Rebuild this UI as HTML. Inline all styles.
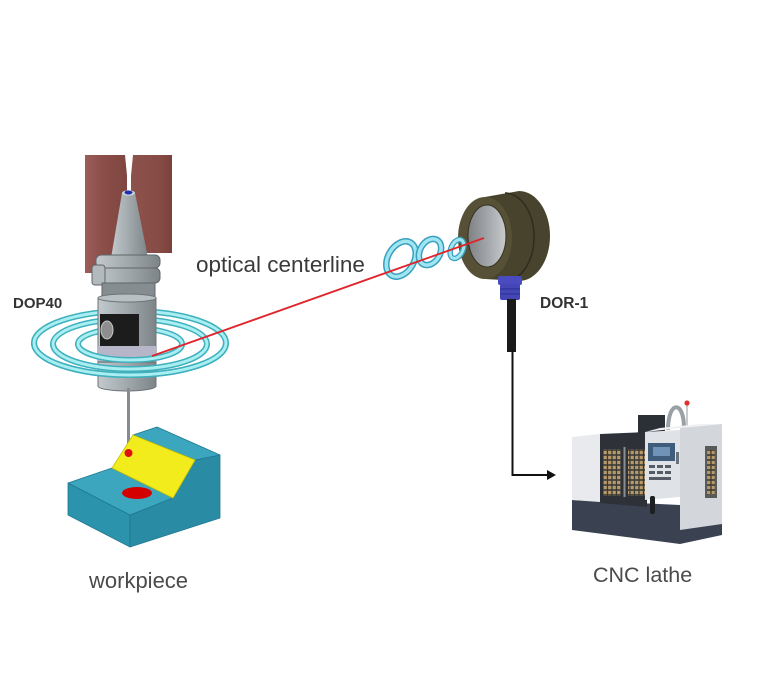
<!DOCTYPE html>
<html><head><meta charset="utf-8"><style>
html,body{margin:0;padding:0;background:#fff;}
svg{display:block;}
text{font-family:"Liberation Sans","DejaVu Sans",sans-serif;}
</style></head><body>
<svg width="768" height="683" viewBox="0 0 768 683" xmlns="http://www.w3.org/2000/svg">
<defs>
<linearGradient id="brL" x1="0" x2="1"><stop offset="0" stop-color="#9b5d57"/><stop offset="0.4" stop-color="#8c4f49"/><stop offset="1" stop-color="#7f4540"/></linearGradient>
<linearGradient id="brR" x1="0" x2="1"><stop offset="0" stop-color="#8e524c"/><stop offset="0.7" stop-color="#874b45"/><stop offset="1" stop-color="#7a413c"/></linearGradient>
<linearGradient id="gr" x1="0" x2="1"><stop offset="0" stop-color="#c3c9cc"/><stop offset="0.45" stop-color="#a4acb0"/><stop offset="1" stop-color="#7c8488"/></linearGradient>
<linearGradient id="lens" x1="0" x2="1"><stop offset="0" stop-color="#7d8185"/><stop offset="0.6" stop-color="#a9acaf"/><stop offset="1" stop-color="#c9cbcd"/></linearGradient>
<pattern id="dots" width="4.5" height="5" patternUnits="userSpaceOnUse"><rect width="4.5" height="5" fill="#3a3a38"/><rect x="0.6" y="0.8" width="3.2" height="3.4" fill="#b89a6a"/></pattern>
</defs>

<!-- brown blocks -->
<rect x="85" y="155" width="42" height="118" fill="url(#brL)"/>
<rect x="131" y="155" width="41" height="98" fill="url(#brR)"/>
<polygon points="125,155 133,155 129,196" fill="#fff"/>

<!-- cone -->
<polygon points="122,193 135,193 148,258 111,258" fill="url(#gr)"/>
<ellipse cx="128.5" cy="193" rx="6.5" ry="2.6" fill="#cfd4d6"/>
<ellipse cx="128.5" cy="192.5" rx="4" ry="2" fill="#1d2fb0"/>

<!-- DOP40 rings full (back parts) -->
<g fill="none">
<ellipse cx="130" cy="343" rx="96" ry="32" stroke="#3fb0bd" stroke-width="6"/>
<ellipse cx="130" cy="343" rx="96" ry="32" stroke="#a9eff2" stroke-width="3"/>
<ellipse cx="130" cy="344" rx="77" ry="25" stroke="#3fb0bd" stroke-width="6"/>
<ellipse cx="130" cy="344" rx="77" ry="25" stroke="#a9eff2" stroke-width="3"/>
<ellipse cx="130" cy="344" rx="52" ry="16" stroke="#3fb0bd" stroke-width="6"/>
<ellipse cx="130" cy="344" rx="52" ry="16" stroke="#a9eff2" stroke-width="3"/>
</g>

<!-- flange -->
<rect x="96" y="255" width="64" height="13" rx="5" fill="url(#gr)" stroke="#5f676b" stroke-width="1"/>
<rect x="94" y="268" width="66" height="15" rx="5" fill="url(#gr)" stroke="#5f676b" stroke-width="1"/>
<rect x="92" y="265" width="13" height="20" rx="3" fill="#b3babd" stroke="#5f676b" stroke-width="1"/>
<rect x="102" y="283" width="53" height="15" fill="#858d91" stroke="#5f676b" stroke-width="1"/>

<!-- body -->
<path d="M98 298 L156 298 L156 386 A29 5 0 0 1 98 386 Z" fill="url(#gr)" stroke="#6c7478" stroke-width="1"/>
<ellipse cx="127" cy="298" rx="29" ry="4" fill="#b9c0c3" stroke="#6c7478" stroke-width="1"/>
<rect x="100" y="314" width="39" height="32" fill="#1c1c1c"/>
<ellipse cx="107" cy="330" rx="6" ry="9" fill="#8e8e8e" stroke="#c8c8c8" stroke-width="1"/>
<rect x="98" y="346" width="58" height="16" fill="#b7b5c8"/>
<line x1="98" y1="362" x2="156" y2="362" stroke="#6c7478" stroke-width="1.2"/>

<!-- stylus -->
<line x1="128.5" y1="388" x2="128.5" y2="450" stroke="#858b8f" stroke-width="3"/>

<!-- DOP40 rings front halves -->
<g fill="none">
<path d="M34 343 A96 32 0 0 0 226 343" stroke="#3fb0bd" stroke-width="6"/>
<path d="M34 343 A96 32 0 0 0 226 343" stroke="#a9eff2" stroke-width="3"/>
<path d="M53 344 A77 25 0 0 0 207 344" stroke="#3fb0bd" stroke-width="6"/>
<path d="M53 344 A77 25 0 0 0 207 344" stroke="#a9eff2" stroke-width="3"/>
<path d="M78 344 A52 16 0 0 0 182 344" stroke="#3fb0bd" stroke-width="6"/>
<path d="M78 344 A52 16 0 0 0 182 344" stroke="#a9eff2" stroke-width="3"/>
</g>

<!-- workpiece -->
<g stroke="#1f7890" stroke-width="0.8" stroke-linejoin="round">
<polygon points="68,483 130,515 130,547 68,515" fill="#2c93ac"/>
<polygon points="130,515 173,498 195,460 220,455 220,518 130,547" fill="#2a8ca4"/>
<polygon points="68,483 112,468 173,498 130,515" fill="#3ba6be"/>
<polygon points="133,435 157,427 220,455 195,460" fill="#3ba6be"/>
<polygon points="112,468 133,435 195,460 173,498" fill="#f2ec1c" stroke="#c9c100"/>
</g>
<ellipse cx="137" cy="493" rx="15" ry="6" fill="#d40000"/>
<circle cx="128.5" cy="453" r="4" fill="#e01010"/>

<!-- receiver -->
<path d="M485 197 L519 191 A31 45 0 0 1 519 281 L485 279 Z" fill="#47432d"/>
<path d="M505 193 A29 44 0 0 1 505 281" fill="none" stroke="#2f2c1d" stroke-width="1.5"/>
<ellipse cx="485" cy="238" rx="27" ry="41" fill="#565136"/>
<ellipse cx="487" cy="236" rx="19" ry="31" fill="url(#lens)" stroke="#35311f" stroke-width="1"/>

<!-- blue connector and cable -->
<rect x="498" y="276" width="24" height="9" rx="2" fill="#4a4bbf"/>
<rect x="500" y="284" width="20" height="16" rx="2" fill="#4446b5"/>
<line x1="500" y1="289" x2="520" y2="289" stroke="#2c2d92" stroke-width="1"/>
<line x1="500" y1="294" x2="520" y2="294" stroke="#2c2d92" stroke-width="1"/>
<rect x="507" y="299" width="9" height="53" fill="#1a1a1a"/>
<polyline points="512.5,350 512.5,475 549,475" fill="none" stroke="#111" stroke-width="2"/>
<polygon points="547,470 556,475 547,480" fill="#111"/>

<!-- receiver rings -->
<g fill="none">
<ellipse cx="401" cy="259" rx="13" ry="19" transform="rotate(30 401 259)" stroke="#3a9fc0" stroke-width="6.5"/>
<ellipse cx="401" cy="259" rx="13" ry="19" transform="rotate(30 401 259)" stroke="#9fe6f0" stroke-width="3.5"/>
<ellipse cx="430" cy="252" rx="10" ry="14" transform="rotate(30 430 252)" stroke="#3a9fc0" stroke-width="6.5"/>
<ellipse cx="430" cy="252" rx="10" ry="14" transform="rotate(30 430 252)" stroke="#9fe6f0" stroke-width="3.5"/>
<ellipse cx="457" cy="249" rx="6" ry="10" transform="rotate(25 457 249)" stroke="#3a9fc0" stroke-width="5.5"/>
<ellipse cx="457" cy="249" rx="6" ry="10" transform="rotate(25 457 249)" stroke="#9fe6f0" stroke-width="3"/>
</g>

<!-- laser -->
<line x1="152" y1="356" x2="484" y2="238" stroke="#e0242b" stroke-width="1.8"/>

<!-- CNC machine -->
<polygon points="572,500 680,505 722,500 722,535 680,544 572,530" fill="#3a4150"/>
<polygon points="572,437 600,434 600,502 572,500" fill="#e8eaed"/>
<polygon points="600,434 647,432 647,507 600,503" fill="#2e3238"/>
<rect x="603" y="449" width="18" height="47" fill="url(#dots)"/>
<rect x="628" y="449" width="17" height="47" fill="url(#dots)"/>
<rect x="623.5" y="447" width="2" height="50" fill="#8a8f95"/>
<rect x="638" y="415" width="27" height="18" fill="#2b2f36"/>
<path d="M668 430 C668 400 684 400 684 428" fill="none" stroke="#9aa0a6" stroke-width="4"/>
<line x1="687" y1="404" x2="687" y2="426" stroke="#b5b9bd" stroke-width="1.5"/>
<circle cx="687" cy="403" r="2.6" fill="#e03030"/>
<polygon points="645,432 680,430 680,497 645,500" fill="#dfe2e6"/>
<polygon points="680,428 722,424 722,524 680,530" fill="#d3d6da"/>
<polygon points="645,432 680,428 722,424 700,424 660,428" fill="#f0f1f3"/>
<rect x="648" y="443" width="27" height="18" fill="#3f5c7a"/>
<rect x="653" y="447" width="17" height="9" fill="#6f94b8"/>
<g fill="#555c66">
<rect x="649" y="465" width="6" height="3"/><rect x="657" y="465" width="6" height="3"/><rect x="665" y="465" width="6" height="3"/>
<rect x="649" y="471" width="6" height="3"/><rect x="657" y="471" width="6" height="3"/><rect x="665" y="471" width="6" height="3"/>
<rect x="649" y="477" width="22" height="3"/>
</g>
<rect x="676" y="452" width="3" height="12" fill="#6b7178"/>
<rect x="705" y="446" width="12" height="52" fill="#5a5a58"/>
<rect x="707" y="450" width="8" height="44" fill="url(#dots)"/>
<rect x="650" y="496" width="5" height="18" rx="2" fill="#1d1f23"/>

<!-- labels -->
<text x="196" y="272" font-size="22.5" fill="#3a3a3a">optical centerline</text>
<text x="13" y="308" font-size="15" font-weight="bold" fill="#333">DOP40</text>
<text x="540" y="308" font-size="15.5" font-weight="bold" fill="#333">DOR-1</text>
<text x="89" y="588" font-size="22" fill="#4a4a4a">workpiece</text>
<text x="593" y="582" font-size="21.5" fill="#4a4a4a">CNC lathe</text>
</svg>
</body></html>
